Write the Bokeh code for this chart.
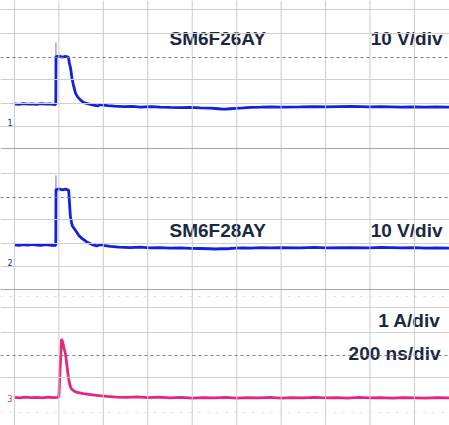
from bokeh.plotting import figure
from bokeh.models import Range1d, Span
from bokeh.core.properties import value
from bokeh.embed import file_html
from bokeh.resources import INLINE

# ---------------- data ----------------
# time in ns, 200 ns/div
t1 = [-200, -180, -160, -140, -120, -100, -80, -60, -40, -20, -14, -13, 0, 15, 30, 43, 47, 52, 59, 66,
      75, 85, 98, 112, 129, 150, 174, 187, 200, 220, 250, 290, 330, 367, 410, 457, 500, 547, 590, 637,
      680, 705, 730, 750, 770, 795, 830, 862, 910, 952, 1000, 1087, 1150, 1200, 1312, 1400, 1450, 1537,
      1600, 1650, 1700, 1758]
v1 = [8.0, 7.8, 8.1, 7.9, 8.0, 7.8, 8.1, 7.9, 8.0, 7.7, 7.8, 28.3, 28.5, 28.1, 28.4, 28.0, 25.5, 23.6, 19.0, 15.8,
      12.5, 10.9, 9.6, 8.5, 8.1, 7.6, 7.1, 7.7, 7.5, 7.2, 7.0, 6.8, 6.9, 6.6, 6.8, 6.6, 6.5, 6.4, 6.5, 6.3,
      6.2, 6.0, 5.8, 5.7, 5.9, 6.1, 6.3, 6.5, 6.6, 6.7, 6.6, 6.7, 6.8, 6.7, 6.9, 6.7, 6.8, 6.6,
      6.7, 6.6, 6.7, 6.6]
spike1_t = [-14, -13.5, -13]
spike1_v = [7.8, 34.3, 28.3]

t2 = [-200, -180, -160, -140, -120, -100, -80, -60, -40, -20, -14, -13, 0, 15, 30, 44, 48, 52, 60, 75,
      90, 105, 125, 150, 170, 187, 200, 232, 270, 320, 367, 410, 457, 500, 547, 590, 637, 680, 705, 730,
      750, 770, 795, 830, 862, 910, 952, 1000, 1087, 1150, 1200, 1312, 1400, 1450, 1537, 1600, 1650,
      1700, 1758]
v2 = [7.6, 7.4, 7.7, 7.5, 7.8, 7.5, 7.4, 7.7, 7.5, 7.3, 7.4, 31.3, 31.6, 31.2, 31.5, 31.0, 25.0, 19.4, 15.8, 13.7,
      11.6, 10.2, 8.8, 7.7, 7.1, 7.7, 7.4, 6.9, 6.6, 6.4, 6.6, 6.3, 6.4, 6.2, 6.3, 6.1, 6.0, 5.9, 5.8, 5.9,
      5.9, 6.0, 6.2, 6.3, 6.2, 6.4, 6.3, 6.4, 6.3, 6.5, 6.3, 6.4, 6.3, 6.5, 6.3, 6.4, 6.2,
      6.3, 6.2]
spike2_t = [-14, -13.5, -13]
spike2_v = [7.4, 37.3, 31.3]

t3 = [-200, -175, -150, -125, -100, -75, -50, -25, -5, 0, 6, 12, 16, 22, 30, 37, 43, 49, 55, 68,
      82, 110, 142, 180, 217, 260, 300, 350, 400, 450, 500, 550, 600, 650, 700, 750, 800, 850, 900, 950,
      1000, 1050, 1100, 1150, 1200, 1250, 1300, 1350, 1400, 1450, 1500, 1550, 1600, 1650, 1700, 1758]
i3 = [0.05, 0.03, 0.06, 0.04, 0.05, 0.03, 0.06, 0.04, 0.05, 0.08, 1.4, 2.55, 2.45, 2.2, 1.9, 1.35, 0.9, 0.6, 0.43, 0.32,
      0.26, 0.21, 0.17, 0.12, 0.09, 0.06, 0.05, 0.07, 0.04, 0.06, 0.03, 0.05, 0.02, 0.04, 0.03, 0.05, 0.02, 0.04, 0.03, 0.05,
      0.02, 0.04, 0.03, 0.05, 0.03, 0.04, 0.02, 0.05, 0.03, 0.04, 0.02, 0.04, 0.03, 0.02, 0.04, 0.03]

labels_top = ["SM6F26AY", "10 V/div"]
labels_mid = ["SM6F28AY", "10 V/div"]
labels_bot = ["1 A/div", "200 ns/div"]
time_ticks = [-200, 0, 200, 400, 600, 800, 1000, 1200, 1400, 1600]

# ---------------- layout ----------------
W, H = 449, 425
PX_DIV_X = 44.44
PX_DIV_Y = 23.3
T0_PX = 58.4           # pixel column of t = 0
ns_per_px = 200 / PX_DIV_X
x_start = -T0_PX * ns_per_px
x_end = (W - T0_PX) * ns_per_px

p = figure(width=W, height=H, x_range=Range1d(x_start, x_end), y_range=Range1d(H, 0),
           x_axis_location=None, y_axis_location=None, toolbar_location=None,
           output_backend="svg", min_border=0, outline_line_color=None,
           background_fill_color="white", border_fill_color="white")
p.xgrid.visible = False
p.ygrid.visible = False


def chan_range(zero_px, per_div):
    return Range1d(start=(zero_px - H) / PX_DIV_Y * per_div, end=zero_px / PX_DIV_Y * per_div)


p.extra_y_ranges = {"ch1": chan_range(122, 10), "ch2": chan_range(262, 10), "ch3": chan_range(398, 1)}

# grid
for t in time_ticks:
    p.add_layout(Span(location=t, dimension="height", line_color="#cbcbcb", line_width=1))
for y in [9, 33, 79, 103, 126, 173, 219, 243, 266, 307, 332, 377]:
    p.add_layout(Span(location=y, dimension="width", line_color="#cfcfcf", line_width=1))
for y in [148, 289]:
    p.add_layout(Span(location=y, dimension="width", line_color="#a8a8a8", line_width=1))
for y in [57, 197, 355]:
    p.add_layout(Span(location=y, dimension="width", line_color="#7c7c7c", line_width=1,
                      line_dash="3 3"))
for y in [296, 412]:
    p.add_layout(Span(location=y, dimension="width", line_color="#dadada", line_width=1,
                      line_dash="2 7"))

BLUE = "#1420e0"
PINK = "#e5267f"

p.line(spike1_t, spike1_v, y_range_name="ch1", line_color="#9aa2d8", line_width=1)
p.line(spike2_t, spike2_v, y_range_name="ch2", line_color="#9aa2d8", line_width=1)
p.line(t1, v1, y_range_name="ch1", line_color=BLUE, line_width=2.8)
p.line(t2, v2, y_range_name="ch2", line_color=BLUE, line_width=2.8)
p.line(t3, i3, y_range_name="ch3", line_color=PINK, line_width=2.8)

# channel ground markers
mk = dict(text_font_size="8px", text_align="left", text_baseline="middle",
          text_font=value("DejaVu Sans"))
p.text([x_start + 7 * ns_per_px], [0], text=["1"], y_range_name="ch1", text_color=BLUE, **mk)
p.text([x_start + 7 * ns_per_px], [0], text=["2"], y_range_name="ch2", text_color=BLUE, **mk)
p.text([x_start + 7 * ns_per_px], [0], text=["3"], y_range_name="ch3", text_color=PINK, **mk)


def px_to_t(px):
    return (px - T0_PX) * ns_per_px


TXT = "#1a2843"
common = dict(text_font=value("Liberation Sans"), text_font_style="bold", text_font_size="19px",
              text_color=TXT, text_baseline="alphabetic")
p.text([px_to_t(169)], [38], text=[labels_top[0]], text_align="left", **common)
p.text([px_to_t(442)], [38], text=[labels_top[1]], text_align="right", **common)
p.text([px_to_t(169)], [230], text=[labels_mid[0]], text_align="left", **common)
p.text([px_to_t(442)], [230], text=[labels_mid[1]], text_align="right", **common)
p.text([px_to_t(440)], [320], text=[labels_bot[0]], text_align="right", **common)
p.text([px_to_t(440)], [353], text=[labels_bot[1]], text_align="right", **common)

open("out.html", "w").write(file_html(p, INLINE))
